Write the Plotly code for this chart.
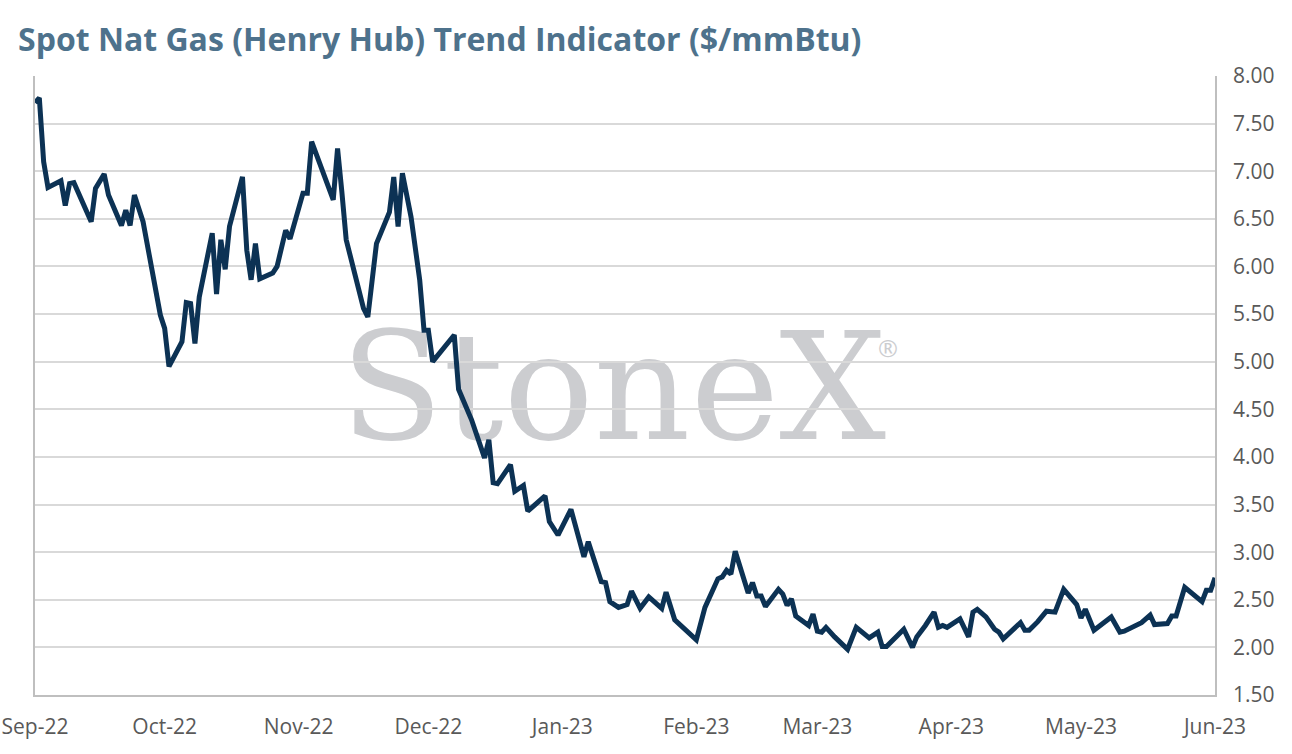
import plotly.graph_objects as go

# Henry Hub spot trend indicator, $/mmBtu
dates = [
    "2022-09-01", "2022-09-02", "2022-09-03", "2022-09-04", "2022-09-07", "2022-09-08",
    "2022-09-09", "2022-09-10", "2022-09-14", "2022-09-15", "2022-09-17", "2022-09-18",
    "2022-09-21", "2022-09-22", "2022-09-23", "2022-09-24", "2022-09-26", "2022-09-28",
    "2022-09-30",
    "2022-10-01", "2022-10-02", "2022-10-05", "2022-10-06", "2022-10-07", "2022-10-08",
    "2022-10-09", "2022-10-12", "2022-10-13", "2022-10-14", "2022-10-15", "2022-10-16",
    "2022-10-19", "2022-10-20", "2022-10-21", "2022-10-22", "2022-10-23", "2022-10-26",
    "2022-10-27", "2022-10-29", "2022-10-30",
    "2022-11-02", "2022-11-03", "2022-11-04", "2022-11-09", "2022-11-10", "2022-11-11",
    "2022-11-12", "2022-11-16", "2022-11-17", "2022-11-19", "2022-11-22", "2022-11-23",
    "2022-11-24", "2022-11-25", "2022-11-27", "2022-11-29", "2022-11-30",
    "2022-12-01", "2022-12-02", "2022-12-07", "2022-12-08", "2022-12-11", "2022-12-14",
    "2022-12-15", "2022-12-16", "2022-12-17", "2022-12-20", "2022-12-21", "2022-12-23",
    "2022-12-24", "2022-12-28", "2022-12-29", "2022-12-31",
    "2023-01-03", "2023-01-06", "2023-01-07", "2023-01-10", "2023-01-11", "2023-01-12",
    "2023-01-14", "2023-01-16", "2023-01-17", "2023-01-19", "2023-01-21", "2023-01-24",
    "2023-01-25", "2023-01-27",
    "2023-02-01", "2023-02-03", "2023-02-06", "2023-02-07", "2023-02-08", "2023-02-09",
    "2023-02-10", "2023-02-13", "2023-02-14", "2023-02-15", "2023-02-16", "2023-02-17",
    "2023-02-20", "2023-02-21", "2023-02-22", "2023-02-23", "2023-02-24", "2023-02-27",
    "2023-02-28",
    "2023-03-01", "2023-03-02", "2023-03-03", "2023-03-05", "2023-03-08", "2023-03-10",
    "2023-03-13", "2023-03-15", "2023-03-16", "2023-03-17", "2023-03-21", "2023-03-23",
    "2023-03-24", "2023-03-26", "2023-03-28", "2023-03-29", "2023-03-30", "2023-03-31",
    "2023-04-03", "2023-04-05", "2023-04-06", "2023-04-07", "2023-04-09", "2023-04-11",
    "2023-04-12", "2023-04-13", "2023-04-17", "2023-04-18", "2023-04-19", "2023-04-21",
    "2023-04-23", "2023-04-25", "2023-04-27", "2023-04-30",
    "2023-05-01", "2023-05-02", "2023-05-04", "2023-05-08", "2023-05-09", "2023-05-10",
    "2023-05-11", "2023-05-14", "2023-05-15", "2023-05-17", "2023-05-18", "2023-05-21",
    "2023-05-22", "2023-05-23", "2023-05-25", "2023-05-29", "2023-05-30", "2023-05-31",
    "2023-06-01",
]

prices = [
    7.72, 7.77, 7.10, 6.83, 6.90, 6.64,
    6.87, 6.88, 6.47, 6.82, 6.97, 6.75,
    6.43, 6.59, 6.43, 6.75, 6.47, 5.98,
    5.49,
    5.35, 4.95, 5.21, 5.62, 5.61, 5.19,
    5.68, 6.35, 5.71, 6.28, 5.97, 6.42,
    6.94, 6.17, 5.86, 6.24, 5.87, 5.93,
    6.00, 6.38, 6.29,
    6.77, 6.77, 7.31, 6.70, 7.24, 6.78,
    6.28, 5.56, 5.47, 6.24, 6.57, 6.94,
    6.42, 6.98, 6.52, 5.86, 5.33,
    5.33, 5.00, 5.28, 4.71, 4.39, 3.99,
    4.18, 3.73, 3.72, 3.92, 3.64, 3.70,
    3.43, 3.59, 3.32, 3.18,
    3.45, 2.95, 3.11, 2.69, 2.68, 2.48,
    2.42, 2.45, 2.59, 2.41, 2.53, 2.41,
    2.58, 2.29,
    2.08, 2.42, 2.72, 2.74, 2.81, 2.77,
    3.01, 2.57, 2.68, 2.54, 2.54, 2.43,
    2.61, 2.56, 2.44, 2.51, 2.33, 2.23,
    2.35,
    2.17, 2.16, 2.21, 2.11, 1.98, 2.21,
    2.10, 2.16, 2.01, 2.01, 2.19, 2.00,
    2.11, 2.23, 2.37, 2.21, 2.23, 2.21,
    2.30, 2.11, 2.37, 2.40, 2.32, 2.19,
    2.16, 2.09, 2.26, 2.18, 2.18, 2.27,
    2.38, 2.37, 2.61, 2.45,
    2.31, 2.40, 2.18, 2.32, 2.25, 2.16,
    2.17, 2.24, 2.26, 2.34, 2.24, 2.25,
    2.33, 2.33, 2.63, 2.48, 2.60, 2.60,
    2.73,
]

y_ticks = [1.5, 2.0, 2.5, 3.0, 3.5, 4.0, 4.5, 5.0, 5.5, 6.0, 6.5, 7.0, 7.5, 8.0]

font_main = "'Open Sans', Lato, sans-serif"
tick_grey = "#595959"
wm_grey = "#cccdd0"

fig = go.Figure()

fig.add_trace(go.Scatter(
    x=dates,
    y=prices,
    mode="lines",
    line=dict(color="#0c3254", width=5),
    hoverinfo="x+y",
    showlegend=False,
))

# StoneX watermark, sits under the grid and the line
fig.add_shape(
    type="rect", xref="paper", yref="paper",
    x0=0.15, x1=0.83, y0=0.315, y1=0.715,
    line=dict(width=0), fillcolor="rgba(0,0,0,0)",
    layer="below",
    label=dict(text="StoneX", textposition="middle center",
               font=dict(family="'DejaVu Serif', serif", size=150, color=wm_grey)),
)
fig.add_annotation(
    xref="paper", yref="paper", x=0.733, y=0.562,
    text="®", showarrow=False,
    font=dict(family=font_main, size=24, color=wm_grey),
)

fig.update_layout(
    width=1292, height=754,
    margin=dict(l=35, r=77, t=76, b=59),
    paper_bgcolor="white",
    plot_bgcolor="white",
    title=dict(
        text="<b>Spot Nat Gas (Henry Hub) Trend Indicator ($/mmBtu)</b>",
        x=18 / 1292, xref="container", xanchor="left",
        y=1 - 40 / 754, yref="container", yanchor="middle",
        font=dict(family=font_main, size=32, color="#4e728c"),
    ),
    font=dict(family=font_main, size=21, color=tick_grey),
)

fig.update_xaxes(
    type="date",
    range=["2022-09-01", "2023-06-01"],
    tick0="2022-09-01", dtick="M1", tickformat="%b-%y",
    showgrid=False,
    showline=True, linecolor="#bfbfbf", linewidth=1.5,
    ticks="", ticklabelstandoff=12, automargin=False,
    tickfont=dict(size=21, color=tick_grey),
)

fig.update_yaxes(
    side="right",
    range=[1.5, 8.0],
    tickvals=y_ticks,
    tickformat=".2f",
    showgrid=True, gridcolor="#d9d9d9", gridwidth=1.5,
    showline=True, linecolor="#bfbfbf", linewidth=1.5, mirror=True,
    zeroline=False,
    ticks="", ticklabelstandoff=12, automargin=False,
    tickfont=dict(size=21, color=tick_grey),
)

# the page body has a default 8px margin; drop it so the figure sits at 0,0
fig.write_html(
    "out.html",
    config={"displayModeBar": False},
    post_script="document.body.style.margin='0';",
)
